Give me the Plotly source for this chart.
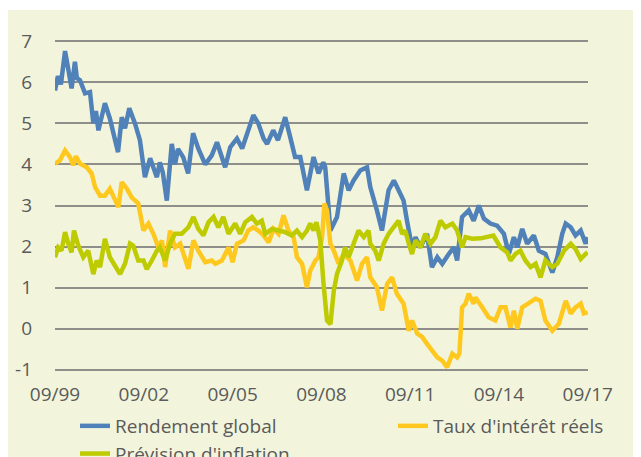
import plotly.graph_objects as go

# ---------------- data ----------------
rend_dates = ["1999-09-01","1999-10-07","1999-11-13","2000-01-03","2000-02-09","2000-03-24","2000-05-04","2000-05-28","2000-07-05","2000-09-06",
              "2000-11-06","2000-12-17","2001-01-18","2001-02-18","2001-05-09","2001-07-09","2001-09-12","2001-10-18","2001-12-03","2002-01-12",
              "2002-03-06","2002-05-15","2002-07-15","2002-09-15","2002-11-18","2003-02-09","2003-03-18","2003-04-24","2003-06-12","2003-08-12",
              "2003-09-21","2003-10-28","2004-01-01","2004-03-01","2004-05-01","2004-07-04","2004-09-28","2004-12-18","2005-02-20","2005-06-01",
              "2005-08-03","2005-10-24","2005-12-28","2006-03-12","2006-05-15","2006-07-15","2006-09-18","2006-11-01","2007-01-15","2007-03-15",
              "2007-06-12","2007-08-12","2007-10-12","2007-12-15","2008-03-06","2008-05-27","2008-07-27","2008-09-24","2008-10-18","2008-12-21",
              "2009-03-12","2009-06-03","2009-08-03","2009-10-03","2009-12-24","2010-03-18","2010-04-27","2010-07-18","2010-09-18","2010-12-09",
              "2011-02-12","2011-04-12","2011-06-12","2011-07-24","2011-09-24","2011-11-06","2012-01-06","2012-03-27","2012-05-27","2012-08-01",
              "2012-10-01","2012-12-21","2013-02-21","2013-04-03","2013-06-03","2013-08-24","2013-10-24","2013-12-27","2014-02-27","2014-05-18",
              "2014-08-09","2014-11-01","2015-01-01","2015-03-04","2015-04-15","2015-06-15","2015-08-15","2015-11-06","2016-01-06","2016-03-27",
              "2016-06-21","2016-08-21","2016-10-21","2016-12-03","2017-02-03","2017-04-03","2017-06-06","2017-08-06","2017-08-31"]
rend_vals = [5.8, 6.15, 5.95, 6.76, 6.35, 5.85, 6.5, 6.1, 6.05, 5.73,
             5.76, 5.0, 5.3, 4.83, 5.49, 5.12, 4.59, 4.3, 5.15, 4.88,
             5.37, 5.0, 4.59, 3.69, 4.15, 3.69, 4.05, 3.8, 3.12, 4.5,
             4.0, 4.38, 4.17, 3.78, 4.76, 4.39, 4.0, 4.22, 4.54, 3.93,
             4.42, 4.63, 4.39, 4.83, 5.2, 5.0, 4.63, 4.5, 4.83, 4.59,
             5.15, 4.67, 4.18, 4.18, 3.37, 4.18, 3.78, 4.05, 3.93, 2.39,
             2.72, 3.78, 3.37, 3.61, 3.85, 3.93, 3.45, 2.88, 2.39, 3.37,
             3.61, 3.37, 3.12, 2.63, 1.98, 2.23, 1.98, 2.31, 1.5, 1.74,
             1.58, 1.82, 1.98, 1.66, 2.72, 2.88, 2.63, 3.0, 2.68, 2.56,
             2.51, 2.31, 1.82, 2.23, 1.98, 2.43, 2.07, 2.27, 1.9, 1.82,
             1.37, 1.74, 2.31, 2.56, 2.47, 2.27, 2.39, 2.07, 2.23]

taux_dates = ["1999-09-01","1999-11-01","2000-01-03","2000-03-04","2000-04-13","2000-05-16","2000-07-05","2000-09-27","2000-11-27","2001-01-07",
              "2001-03-10","2001-05-09","2001-07-09","2001-09-12","2001-10-22","2001-12-03","2002-02-04","2002-04-04","2002-06-24","2002-08-28",
              "2002-10-28","2002-12-28","2003-02-28","2003-04-13","2003-05-22","2003-07-22","2003-09-21","2003-11-24","2004-03-04","2004-05-06",
              "2004-07-04","2004-09-28","2004-12-18","2005-02-01","2005-04-22","2005-07-13","2005-09-01","2005-10-24","2006-01-15","2006-03-12",
              "2006-05-15","2006-07-15","2006-09-18","2006-11-19","2007-01-19","2007-03-22","2007-05-22","2007-07-22","2007-09-24","2007-11-04",
              "2008-01-06","2008-03-06","2008-04-16","2008-06-18","2008-07-27","2008-09-09","2008-10-09","2008-11-09","2008-12-21","2009-02-01",
              "2009-04-01","2009-06-03","2009-08-24","2009-11-15","2010-01-15","2010-03-18","2010-04-27","2010-07-18","2010-09-18","2010-11-21",
              "2011-01-21","2011-03-21","2011-06-12","2011-08-15","2011-09-24","2011-11-27","2012-01-27","2012-03-27","2012-05-27","2012-08-01",
              "2012-10-01","2012-12-01","2013-02-03","2013-04-03","2013-05-01","2013-06-03","2013-07-15","2013-08-24","2013-10-24","2013-11-15",
              "2014-02-06","2014-04-27","2014-07-18","2014-09-21","2014-11-21","2015-01-21","2015-03-04","2015-04-15","2015-06-15","2015-09-06",
              "2015-11-27","2016-01-27","2016-03-27","2016-06-21","2016-09-09","2016-12-03","2017-02-03","2017-04-03","2017-06-06","2017-07-15",
              "2017-08-31"]
taux_vals = [4.02, 4.1, 4.34, 4.18, 3.98, 4.2, 4.02, 3.93, 3.78, 3.45,
             3.24, 3.24, 3.41, 3.12, 2.96, 3.57, 3.41, 3.2, 3.05, 2.39,
             2.56, 2.31, 1.98, 2.15, 1.5, 2.39, 1.98, 2.07, 1.46, 2.15,
             1.9, 1.62, 1.66, 1.58, 1.66, 1.98, 1.62, 2.07, 2.15, 2.39,
             2.47, 2.39, 2.27, 2.1, 2.43, 2.31, 2.76, 2.39, 2.23, 1.74,
             1.58, 1.01, 1.41, 1.66, 1.74, 2.23, 3.05, 2.88, 2.07, 1.9,
             1.58, 1.82, 1.66, 1.17, 1.58, 1.74, 1.25, 1.01, 0.44, 1.09,
             1.25, 0.85, 0.61, -0.05, 0.2, -0.12, -0.2, -0.37, -0.54, -0.7,
             -0.78, -0.94, -0.61, -0.7, -0.6, 0.52, 0.61, 0.85, 0.61, 0.76,
             0.52, 0.28, 0.2, 0.52, 0.52, 0.03, 0.44, 0.0, 0.52, 0.61,
             0.73, 0.68, 0.2, -0.05, 0.12, 0.68, 0.37, 0.52, 0.61, 0.37,
             0.4]

infl_dates = ["1999-09-01","1999-10-10","1999-11-20","2000-01-03","2000-02-12","2000-03-24","2000-04-22","2000-06-15","2000-08-15","2000-10-15",
              "2000-12-17","2001-01-28","2001-03-10","2001-05-09","2001-07-09","2001-09-12","2001-11-12","2002-01-12","2002-03-15","2002-04-24",
              "2002-06-24","2002-08-28","2002-10-07","2002-12-09","2003-02-09","2003-03-18","2003-05-22","2003-07-22","2003-09-21","2003-12-12",
              "2004-03-04","2004-05-06","2004-07-04","2004-09-06","2004-11-06","2005-01-09","2005-03-09","2005-05-09","2005-07-13","2005-10-03",
              "2005-12-03","2006-02-03","2006-04-27","2006-06-27","2006-08-27","2006-10-09","2007-01-01","2007-03-22","2007-06-12","2007-09-03",
              "2007-11-04","2008-01-06","2008-03-06","2008-04-16","2008-05-27","2008-07-01","2008-08-18","2008-09-27","2008-11-09","2008-12-21",
              "2009-02-01","2009-03-12","2009-05-12","2009-06-21","2009-08-03","2009-10-03","2009-12-03","2010-02-06","2010-04-06","2010-04-27",
              "2010-06-27","2010-08-09","2010-10-09","2010-12-09","2011-02-12","2011-04-12","2011-05-24","2011-07-03","2011-08-15","2011-09-24",
              "2011-11-06","2012-01-06","2012-03-06","2012-05-09","2012-07-09","2012-09-09","2012-11-09","2013-02-03","2013-04-03","2013-06-03",
              "2013-07-15","2013-10-06","2014-01-18","2014-04-01","2014-06-24","2014-09-21","2014-12-12","2015-01-21","2015-03-24","2015-05-24",
              "2015-07-24","2015-09-27","2015-11-27","2016-01-27","2016-03-27","2016-06-21","2016-08-21","2016-11-12","2017-02-03","2017-04-03",
              "2017-06-06","2017-08-06","2017-08-31"]
infl_vals = [1.74, 1.98, 1.9, 2.35, 2.07, 1.86, 2.39, 2.02, 1.74, 1.9,
             1.33, 1.66, 1.5, 2.19, 1.74, 1.5, 1.33, 1.58, 2.07, 2.02,
             1.66, 1.66, 1.45, 1.66, 1.9, 1.98, 1.66, 2.07, 2.31, 2.31,
             2.47, 2.72, 2.43, 2.27, 2.59, 2.72, 2.47, 2.72, 2.31, 2.56,
             2.31, 2.59, 2.72, 2.56, 2.63, 2.31, 2.43, 2.39, 2.35, 2.27,
             2.39, 2.23, 2.39, 2.56, 2.39, 2.59, 2.15, 1.09, 0.2, 0.11,
             0.93, 1.33, 1.66, 1.98, 1.74, 2.07, 2.39, 2.23, 2.39, 2.07,
             1.9, 1.66, 2.07, 2.31, 2.47, 2.63, 2.31, 2.39, 2.07, 1.82,
             2.15, 1.98, 2.31, 2.07, 2.23, 2.63, 2.47, 2.56, 2.39, 1.98,
             2.23, 2.19, 2.2, 2.22, 2.27, 1.98, 1.86, 1.66, 1.82, 1.9,
             1.66, 1.5, 1.58, 1.25, 1.66, 1.5, 1.58, 1.9, 2.07, 1.94,
             1.7, 1.82, 1.86]

x_tick_vals = ["1999-09-01", "2002-09-01", "2005-09-01", "2008-09-01", "2011-09-01", "2014-09-01", "2017-09-01"]
x_tick_text = ["09/99", "09/02", "09/05", "09/08", "09/11", "09/14", "09/17"]
y_tick_vals = [-1, 0, 1, 2, 3, 4, 5, 6, 7]
y_tick_text = ["-1", "0", "1", "2", "3", "4", "5", "6", "7"]

# ---------------- style ----------------
BLUE = "#5081B8"
YELLOW = "#FFC81E"
GREEN = "#BDCB00"
BG = "#F2F5DC"
GRID = "#8E8E8A"
TXT = "#5A5A5A"
FONT = "Open Sans"

fig = go.Figure()
fig.add_trace(go.Scatter(x=rend_dates, y=rend_vals, mode="lines", name="Rendement global",
                         line=dict(color=BLUE, width=4.5), legend="legend"))
fig.add_trace(go.Scatter(x=taux_dates, y=taux_vals, mode="lines", name="Taux d'intérêt réels",
                         line=dict(color=YELLOW, width=4.5), legend="legend2"))
fig.add_trace(go.Scatter(x=infl_dates, y=infl_vals, mode="lines", name="Prévision d'inflation",
                         line=dict(color=GREEN, width=4.5), legend="legend"))

# the page places the figure 8px from the window's top-left corner
W, H = 633, 449
L, R, T, B = 47, 53, 32, 86
pw = W - L - R
ph = H - T - B

fig.update_layout(
    width=W, height=H,
    margin=dict(l=L, r=R, t=T, b=B, pad=0, autoexpand=False),
    paper_bgcolor=BG,
    plot_bgcolor="rgba(0,0,0,0)",
    font=dict(family=FONT, size=19, color=TXT),
    xaxis=dict(type="date", range=["1999-09-01", "2017-09-04"],
               tickvals=x_tick_vals, ticktext=x_tick_text,
               showgrid=False, zeroline=False, showline=False, ticks="",
               ticklabelstandoff=10, tickfont=dict(size=19, color=TXT)),
    xaxis2=dict(type="date", range=["1999-09-01", "2017-09-04"], overlaying="x",
                anchor="free", position=1.03 / 8.06,
                tickvals=x_tick_vals, showticklabels=False,
                showgrid=False, zeroline=False, showline=True, linecolor=GRID, linewidth=1.5,
                ticks="outside", ticklen=6, tickwidth=1.5, tickcolor=GRID),
    yaxis=dict(range=[-1.03, 7.03], tickvals=y_tick_vals, ticktext=y_tick_text, showgrid=True,
               gridcolor=GRID, gridwidth=1.5, zeroline=False, showline=False,
               ticks="", ticklabelstandoff=22, tickfont=dict(size=19, color=TXT)),
    legend=dict(orientation="v", x=67 / W, xref="container", xanchor="left",
                y=1 - 399 / H, yref="container", yanchor="top",
                bgcolor="rgba(0,0,0,0)", font=dict(size=19, color=TXT),
                tracegroupgap=0, itemwidth=30),
    legend2=dict(orientation="v", x=385 / W, xref="container", xanchor="left",
                 y=1 - 399 / H, yref="container", yanchor="top",
                 bgcolor="rgba(0,0,0,0)", font=dict(size=19, color=TXT),
                 itemwidth=30),
    showlegend=True,
    shapes=[dict(type="rect", xref="paper", yref="paper", layer="below",
                 x0=-0.5, x1=1.5, y0=(H - B - 2) / ph, y1=1.5,
                 fillcolor="white", line=dict(width=0))],
)

fig.write_html("out.html")
